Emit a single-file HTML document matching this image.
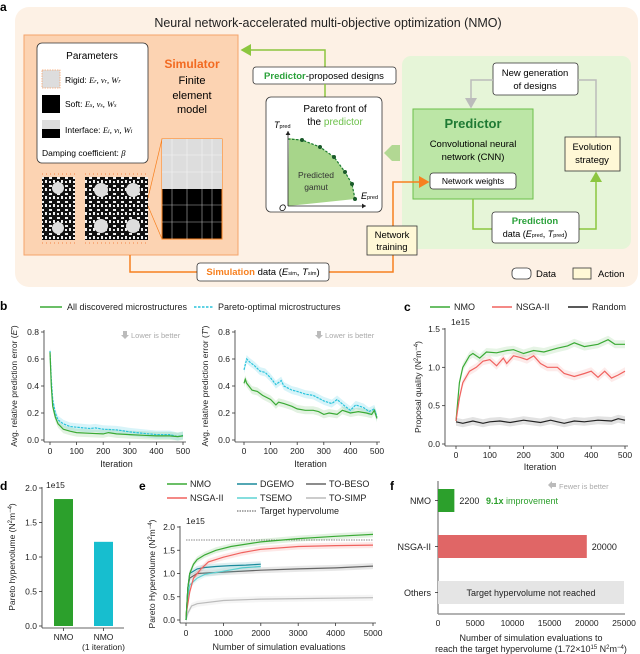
<!DOCTYPE html>
<html><head><meta charset="utf-8"><style>
html,body{margin:0;padding:0;background:#fff;}
svg{display:block;font-family:"Liberation Sans",Arial,sans-serif;}
</style></head><body>
<svg id="fig" width="640" height="654" viewBox="0 0 640 654" xmlns="http://www.w3.org/2000/svg">
<defs>
<marker id="ag" markerWidth="8" markerHeight="8" refX="6" refY="4" orient="auto"><path d="M0,0 L7,4 L0,8 z" fill="#8cc63f"/></marker>
<marker id="agr" markerWidth="8" markerHeight="8" refX="6" refY="4" orient="auto"><path d="M0,0 L7,4 L0,8 z" fill="#bbb"/></marker>
<marker id="ao" markerWidth="8" markerHeight="8" refX="6" refY="4" orient="auto"><path d="M0,0 L7,4 L0,8 z" fill="#f7801f"/></marker>
<marker id="ak" markerWidth="6" markerHeight="6" refX="5" refY="3" orient="auto"><path d="M0,0 L5,3 L0,6 z" fill="#222"/></marker>
<pattern id="maze" width="8" height="8" patternUnits="userSpaceOnUse"><rect width="8" height="8" fill="#111"/><rect x="1" y="1" width="3" height="2" fill="#eee"/><rect x="5" y="4" width="2" height="3" fill="#eee"/><rect x="1" y="5" width="2" height="2" fill="#eee"/></pattern>
</defs>

<!-- Panel a -->
<text x="0" y="11" font-size="12" font-weight="bold">a</text>
<rect x="15" y="7" width="623" height="280" rx="14" fill="#fdf1e5"/>
<text x="328" y="27" font-size="12.5" text-anchor="middle" fill="#222">Neural network-accelerated multi-objective optimization (NMO)</text>

<g>
<rect x="24" y="35" width="214" height="220" fill="#fcd3b2" stroke="#f5a46b" stroke-width="1"/>
<rect x="37" y="43" width="111" height="120" rx="5" fill="#fff" stroke="#333" stroke-width="0.8"/>
<text x="92" y="59" font-size="10" text-anchor="middle">Parameters</text>
<rect x="42" y="70" width="18" height="18" fill="#ddd" stroke="#f7a46b" stroke-dasharray="1.5,1" stroke-width="0.8"/>
<text x="65" y="83" font-size="8.5">Rigid: <tspan font-style="italic" font-family="Liberation Serif">E<tspan font-size="6">r</tspan>, ν<tspan font-size="6">r</tspan>, W<tspan font-size="6">r</tspan></tspan></text>
<rect x="42" y="95" width="18" height="18" fill="#000"/>
<text x="65" y="107" font-size="8.5">Soft: <tspan font-style="italic" font-family="Liberation Serif">E<tspan font-size="6">s</tspan>, ν<tspan font-size="6">s</tspan>, W<tspan font-size="6">s</tspan></tspan></text>
<rect x="42" y="120" width="18" height="9" fill="#ddd"/><rect x="42" y="129" width="18" height="9" fill="#000"/>
<text x="65" y="133" font-size="8.5">Interface: <tspan font-style="italic" font-family="Liberation Serif">E<tspan font-size="6">i</tspan>, ν<tspan font-size="6">i</tspan>, W<tspan font-size="6">i</tspan></tspan></text>
<text x="42" y="156" font-size="8.5">Damping coefficient: <tspan font-style="italic" font-family="Liberation Serif">β</tspan></text>
<text x="192" y="68" font-size="12" font-weight="bold" fill="#f26a21" text-anchor="middle">Simulator</text>
<text x="192" y="84" font-size="11" text-anchor="middle">Finite</text>
<text x="192" y="99" font-size="11" text-anchor="middle">element</text>
<text x="192" y="113" font-size="11" text-anchor="middle">model</text>
<rect x="42" y="177" width="33" height="63" fill="url(#maze)"/>
<rect x="85" y="177" width="63" height="63" fill="url(#maze)"/>
<circle cx="58" cy="188" r="6" fill="#ddd"/><circle cx="58" cy="228" r="6" fill="#ddd"/>
<circle cx="101" cy="190" r="7" fill="#ddd"/><circle cx="133" cy="190" r="7" fill="#ddd"/><circle cx="101" cy="226" r="7" fill="#ddd"/><circle cx="133" cy="226" r="7" fill="#ddd"/>
<path d="M42,174 h33 M85,174 h63 M42,243 h33 M85,243 h63" stroke="#f26a21" stroke-width="0.8" stroke-dasharray="1,3"/>
<rect x="162" y="139" width="60" height="100" fill="#000" stroke="#f7801f" stroke-width="1"/>
<rect x="162" y="139" width="60" height="50" fill="#ddd"/>
<path d="M172,139v100M187,139v100M202,139v100M212,139v100M162,155h60M162,172h60M162,205h60M162,222h60" stroke="#fff" stroke-width="0.6" opacity="0.7"/>
<path d="M148,198 L162,139 M148,206 L162,239" stroke="#f7801f" stroke-width="0.7"/>
</g>

<path d="M325,67 V50 H242" fill="none" stroke="#8cc63f" stroke-width="1.5" marker-end="url(#ag)"/>
<g>
<rect x="253" y="67" width="143" height="17" rx="3" fill="#fff" stroke="#333" stroke-width="0.8"/>
<text x="324" y="79" font-size="9.5" text-anchor="middle"><tspan fill="#2aa13a" font-weight="bold">Predictor</tspan>-proposed designs</text>
</g>
<line x1="325" y1="84" x2="325" y2="97" stroke="#8cc63f" stroke-width="1.5"/>

<g>
<rect x="266" y="97" width="116" height="115" rx="5" fill="#fff" stroke="#333" stroke-width="0.8"/>
<text x="335" y="112" font-size="10" text-anchor="middle">Pareto front of</text>
<text x="335" y="125" font-size="10" text-anchor="middle">the <tspan fill="#6cc04a">predictor</tspan></text>
<path d="M289,138 L302,140 L320,147 L334,157 L345,172 L352,184 L355,199 L288,206 Z" fill="#a7d58a"/>
<path d="M288,139 L302,140 L320,147 L334,157 L345,172 L352,184 L355,199" fill="none" stroke="#1a7a30" stroke-dasharray="2.5,1.5" stroke-width="1.2"/>
<g fill="#1a5a2a"><circle cx="302" cy="140" r="2"/><circle cx="320" cy="147" r="2"/><circle cx="334" cy="157" r="2"/><circle cx="345" cy="172" r="2"/><circle cx="352" cy="184" r="2"/><circle cx="355" cy="199" r="2"/></g>
<path d="M288,206 V131" stroke="#222" stroke-width="0.8" marker-end="url(#ak)"/>
<path d="M288,206 H366" stroke="#222" stroke-width="0.8" marker-end="url(#ak)"/>
<text x="274" y="128" font-size="9" font-style="italic">T<tspan font-size="5.5" font-style="normal">pred</tspan></text>
<text x="361" y="199" font-size="9" font-style="italic">E<tspan font-size="5.5" font-style="normal">pred</tspan></text>
<text x="279" y="211" font-size="9" font-style="italic">O</text>
<text x="316" y="178" font-size="8.5" text-anchor="middle" fill="#333">Predicted</text>
<text x="316" y="190" font-size="8.5" text-anchor="middle" fill="#333">gamut</text>
</g>

<rect x="402" y="56" width="229" height="193" rx="9" fill="#e6f5d8"/>
<path d="M400,145 H392 L384,153 L392,161 H400 Z" fill="#9fd27e" opacity="0.8"/>
<g>
<rect x="493" y="63" width="85" height="32" rx="3" fill="#fff" stroke="#333" stroke-width="0.8"/>
<text x="535" y="76" font-size="9.5" text-anchor="middle">New generation</text>
<text x="535" y="89" font-size="9.5" text-anchor="middle">of designs</text>
</g>
<path d="M493,80 H471 V107" fill="none" stroke="#bbb" stroke-width="1.5" marker-end="url(#agr)"/>
<path d="M596,137 V80 H578" fill="none" stroke="#bbb" stroke-width="1.5"/>
<g>
<rect x="413" y="109" width="120" height="90" fill="#bce6a6" stroke="#6cc04a" stroke-width="1"/>
<text x="473" y="128" font-size="13" font-weight="bold" fill="#1f7a34" text-anchor="middle">Predictor</text>
<text x="473" y="147" font-size="9.5" text-anchor="middle">Convolutional neural</text>
<text x="473" y="160" font-size="9.5" text-anchor="middle">network (CNN)</text>
<rect x="430" y="173" width="86" height="16" rx="3" fill="#fff" stroke="#333" stroke-width="0.8"/>
<text x="473" y="184" font-size="8.5" text-anchor="middle">Network weights</text>
</g>
<g>
<rect x="565" y="137" width="55" height="34" fill="#fff8d6" stroke="#333" stroke-width="0.8"/>
<text x="592" y="150" font-size="9.5" text-anchor="middle">Evolution</text>
<text x="592" y="163" font-size="9.5" text-anchor="middle">strategy</text>
</g>
<path d="M473,199 V229 H492" fill="none" stroke="#8cc63f" stroke-width="1.5"/>
<path d="M579,229 H596 V173" fill="none" stroke="#8cc63f" stroke-width="1.5" marker-end="url(#ag)"/>
<g>
<rect x="492" y="212" width="87" height="31" rx="3" fill="#fff" stroke="#333" stroke-width="0.8"/>
<text x="535" y="224" font-size="9.5" font-weight="bold" fill="#2aa13a" text-anchor="middle">Prediction</text>
<text x="535" y="237" font-size="9" text-anchor="middle">data (<tspan font-style="italic">E</tspan><tspan font-size="5.5">pred</tspan>, <tspan font-style="italic">T</tspan><tspan font-size="5.5">pred</tspan>)</text>
</g>
<path d="M130,255 V272 H197" fill="none" stroke="#f7801f" stroke-width="1.5"/>
<path d="M329,272 H393 V182 H428" fill="none" stroke="#f7801f" stroke-width="1.5" marker-end="url(#ao)"/>
<g>
<rect x="367" y="226" width="50" height="29" fill="#fff8d6" stroke="#333" stroke-width="0.8"/>
<text x="392" y="238" font-size="9.5" text-anchor="middle">Network</text>
<text x="392" y="250" font-size="9.5" text-anchor="middle">training</text>
</g>
<g>
<rect x="197" y="263" width="132" height="18" rx="3" fill="#fff" stroke="#333" stroke-width="0.8"/>
<text x="263" y="275" font-size="9.5" text-anchor="middle"><tspan fill="#f7801f" font-weight="bold">Simulation</tspan> data (<tspan font-style="italic">E</tspan><tspan font-size="5.5">sim</tspan>, <tspan font-style="italic">T</tspan><tspan font-size="5.5">sim</tspan>)</text>
</g>
<g>
<rect x="512" y="268" width="19" height="11" rx="4" fill="#fff" stroke="#333" stroke-width="0.8"/>
<text x="536" y="277" font-size="9.5">Data</text>
<rect x="573" y="268" width="18" height="11" fill="#fff8d6" stroke="#333" stroke-width="0.8"/>
<text x="598" y="277" font-size="9.5">Action</text>
</g>

<!-- panel labels -->
<text x="0" y="310" font-size="12" font-weight="bold">b</text>
<text x="404" y="311" font-size="12" font-weight="bold">c</text>
<text x="0" y="490" font-size="12" font-weight="bold">d</text>
<text x="139" y="490" font-size="12" font-weight="bold">e</text>
<text x="390" y="490" font-size="12" font-weight="bold">f</text>
<g id="charts"></g>
</svg>
<script>
// ---------- DATA ----------
// panel b (left, E')
const bIterE_green = [0,5,10,20,30,50,75,100,150,200,220,250,300,350,400,450,480,500];
const bValE_green  = [0.65,0.40,0.25,0.17,0.12,0.08,0.065,0.055,0.05,0.045,0.055,0.045,0.04,0.035,0.03,0.03,0.025,0.03];
const bIterE_cyan  = [0,5,10,20,30,50,75,100,150,170,200,250,270,300,350,400,450,480,500];
const bValE_cyan   = [0.66,0.45,0.30,0.20,0.15,0.12,0.10,0.095,0.085,0.09,0.08,0.075,0.07,0.06,0.05,0.04,0.04,0.025,0.035];
// panel b (right, T')
const bIterT_green = [0,5,10,30,50,70,100,120,130,150,180,200,230,260,280,300,320,350,370,400,430,460,480,490,500];
const bValT_green  = [0.42,0.45,0.42,0.37,0.36,0.33,0.30,0.26,0.28,0.27,0.25,0.23,0.22,0.22,0.21,0.19,0.20,0.19,0.22,0.20,0.21,0.20,0.19,0.22,0.16];
const bIterT_cyan  = [0,10,20,40,60,80,100,120,140,150,180,200,230,260,280,300,330,350,380,400,420,450,470,490,500];
const bValT_cyan   = [0.52,0.60,0.58,0.55,0.51,0.50,0.46,0.41,0.44,0.40,0.37,0.36,0.34,0.33,0.31,0.29,0.27,0.30,0.25,0.22,0.26,0.24,0.21,0.23,0.17];
const bTicksY = ["0.0","0.2","0.4","0.6","0.8"];
const bTicksX = [0,100,200,300,400,500];
// panel c
const cIter = [0,10,20,40,50,70,90,120,150,170,200,230,260,300,330,350,380,420,450,470,500];
const cNMO  = [0.3,0.8,1.0,1.15,1.18,1.12,1.2,1.19,1.22,1.23,1.18,1.22,1.2,1.25,1.28,1.32,1.27,1.3,1.36,1.3,1.3];
const cIterN = [0,10,20,40,60,80,100,120,140,150,170,190,210,230,250,270,300,320,350,380,400,420,440,460,480,500];
const cNSGA = [0.3,0.6,0.8,0.95,1.0,1.08,1.1,1.02,1.12,1.05,1.15,1.13,1.1,1.15,1.05,1.0,1.0,0.92,0.88,0.92,0.95,0.87,0.95,0.86,0.9,0.95];
const cIterR = [0,20,50,80,100,130,160,200,250,280,300,320,350,380,420,460,480,500];
const cRandom = [0.29,0.27,0.3,0.27,0.29,0.3,0.28,0.31,0.28,0.31,0.29,0.27,0.3,0.29,0.31,0.3,0.33,0.31];
const cTicksY = ["0.0","0.5","1.0","1.5"];
// panel d
const dCats = ["NMO","NMO"];
const dSub = ["","(1 iteration)"];
const dVals = [1.84,1.22];
const dTicksY = ["0.0","0.5","1.0","1.5","2.0"];
// panel e
const eX_NMO = [0,50,100,200,300,500,800,1200,2000,3000,4000,5000];
const eY_NMO = [0,0.7,1.0,1.2,1.3,1.4,1.5,1.58,1.68,1.75,1.8,1.84];
const eX_NSGA = [0,100,200,400,600,1000,1500,2000,3000,4000,5000];
const eY_NSGA = [0.1,0.6,0.9,1.1,1.25,1.35,1.45,1.52,1.58,1.6,1.61];
const eX_DGEMO = [0,50,100,300,500,800,1200,1600,2000];
const eY_DGEMO = [0,0.7,1.0,1.1,1.13,1.15,1.17,1.18,1.2];
const eX_TSEMO = [0,50,100,300,500,1000,1500,2000];
const eY_TSEMO = [0,0.5,0.75,0.9,0.98,1.05,1.12,1.15];
const eX_BESO = [0,50,100,300,1000,2000,3000,4000,5000];
const eY_BESO = [0,0.7,0.9,1.0,1.03,1.07,1.1,1.12,1.16];
const eX_SIMP = [0,50,150,300,1000,2000,3000,5000];
const eY_SIMP = [0,0.15,0.3,0.35,0.42,0.45,0.46,0.48];
const eTarget = [1.72];
const eTicksX = [0,1000,2000,3000,4000,5000];
const eTicksY = ["0.0","0.5","1.0","1.5","2.0"];
// panel f
const fCats = ["NMO","NSGA-II","Others"];
const fVals = [2200,20000,25000];
const fLabels = ["2200","20000","Target hypervolume not reached"];
const fTicksX = [0,5000,10000,15000,20000,25000];

// ---------- helpers ----------
const NS="http://www.w3.org/2000/svg";
const root=document.getElementById('charts');
function el(tag,attrs,parent){const e=document.createElementNS(NS,tag);for(const k in attrs)e.setAttribute(k,attrs[k]);(parent||root).appendChild(e);return e;}
function txt(x,y,s,size,anchor,fill,parent){const t=el('text',{x:x,y:y,'font-size':size,'text-anchor':anchor||'start',fill:fill||'#222'},parent);t.textContent=s;return t;}
function lin(d0,d1,r0,r1){return v=>r0+(v-d0)/(d1-d0)*(r1-r0);}
function pathD(xs,ys,sx,sy){return xs.map((x,i)=>(i?'L':'M')+sx(x).toFixed(1)+','+sy(ys[i]).toFixed(1)).join('');}
function bandD(xs,ys,sx,sy,w){let up=xs.map((x,i)=>sx(x).toFixed(1)+','+(sy(ys[i])-w).toFixed(1));let dn=xs.map((x,i)=>sx(x).toFixed(1)+','+(sy(ys[i])+w).toFixed(1)).reverse();return 'M'+up.join('L')+'L'+dn.join('L')+'Z';}
function axisL(x,y0,y1,g){el('line',{x1:x,y1:y0,x2:x,y2:y1,stroke:'#333','stroke-width':0.8},g);}
function rotTitle(x,y,s,size,g){const t=el('text',{x:0,y:0,'font-size':size,'text-anchor':'middle',transform:`translate(${x},${y}) rotate(-90)`,fill:'#222'},g);t.innerHTML=s;return t;}

// ---------- panel b legend ----------
let lg=el('g',{});


el('line',{x1:40,y1:307,x2:62,y2:307,stroke:'#3aaa35','stroke-width':1.5},lg);
txt(67,310,'All discovered microstructures',9,'start','#222',lg);
el('line',{x1:194,y1:307,x2:214,y2:307,stroke:'#29c4dc','stroke-width':1.5,'stroke-dasharray':'2.5,1.5'},lg);
txt(218,310,'Pareto-optimal microstructures',9,'start','#222',lg);

function panelB(name,x0px,x1px,axisX,gX,gY,cX,cY,ttl){
  const g=el('g',{});
  
  
  const sx=lin(0,500,x0px,x1px), sy=lin(0,0.8,440,332);
  axisL(axisX,330,442,g);
  el('line',{x1:axisX,y1:442,x2:x1px+3,y2:442,stroke:'#333','stroke-width':0.8},g);
  bTicksY.forEach(s=>{const v=parseFloat(s);el('line',{x1:axisX-3,y1:sy(v),x2:axisX,y2:sy(v),stroke:'#333','stroke-width':0.8},g);txt(axisX-5,sy(v)+3,s,8.5,'end','#222',g);});
  bTicksX.forEach(v=>{el('line',{x1:sx(v),y1:442,x2:sx(v),y2:445,stroke:'#333','stroke-width':0.8},g);txt(sx(v),454,String(v),8.5,'middle','#222',g);});
  txt((x0px+x1px)/2,467,'Iteration',9,'middle','#222',g);
  rotTitle(axisX-27,386,ttl,8.5,g);
  el('path',{d:bandD(cX,cY,sx,sy,4),fill:'#29c4dc',opacity:0.18},g);
  el('path',{d:bandD(gX,gY,sx,sy,4),fill:'#3aaa35',opacity:0.15},g);
  const pc=el('path',{d:pathD(cX,cY,sx,sy),fill:'none',stroke:'#29c4dc','stroke-width':1.2,'stroke-dasharray':'2.5,1'},g);
  
  
  const pg=el('path',{d:pathD(gX,gY,sx,sy),fill:'none',stroke:'#3aaa35','stroke-width':1.2},g);
  
  
  el('path',{d:`M${x1px-60},331 h4 v4 h2 l-4,4 l-4,-4 h2 z`,fill:'#bbb'},g);
  txt(x1px-52,338,'Lower is better',7.5,'start','#aaa',g);
}
panelB('chart-b-e-error',50,183,44,bIterE_green,bValE_green,bIterE_cyan,bValE_cyan,"Avg. relative prediction error (<tspan font-style='italic'>E</tspan>')");
panelB('chart-b-t-error',244,377,235,bIterT_green,bValT_green,bIterT_cyan,bValT_cyan,"Avg. relative prediction error (<tspan font-style='italic'>T</tspan>')");

// ---------- panel c ----------
(function(){
  const g=el('g',{});
  
  
  const sx=lin(0,500,456,625), sy=lin(0,1.5,444,329);
  const lgd=[['NMO','#3aaa35',430],['NSGA-II','#f0625f',492],['Random','#222',568]];
  lgd.forEach(l=>{el('line',{x1:l[2],y1:307,x2:l[2]+20,y2:307,stroke:l[1],'stroke-width':1.5},g);txt(l[2]+24,310,l[0],9,'start','#222',g);});
  txt(451,325,'1e15',8.5,'start','#222',g);
  axisL(445,328,446,g);
  el('line',{x1:445,y1:446,x2:628,y2:446,stroke:'#333','stroke-width':0.8},g);
  cTicksY.forEach(s=>{const v=parseFloat(s);el('line',{x1:442,y1:sy(v),x2:445,y2:sy(v),stroke:'#333','stroke-width':0.8},g);txt(440,sy(v)+3,s,8.5,'end','#222',g);});
  bTicksX.forEach(v=>{el('line',{x1:sx(v),y1:446,x2:sx(v),y2:449,stroke:'#333','stroke-width':0.8},g);txt(sx(v),458,String(v),8.5,'middle','#222',g);});
  txt(540,470,'Iteration',9,'middle','#222',g);
  rotTitle(421,387,'Proposal quality (N<tspan font-size="6" dy="-3">2</tspan><tspan dy="3">m</tspan><tspan font-size="6" dy="-3">−4</tspan><tspan dy="3">)</tspan>',8.5,g);
  [[cIter,cNMO,'#3aaa35','nmo-line'],[cIterN,cNSGA,'#f0625f','nsga-line'],[cIterR,cRandom,'#222','random-line']].forEach(s=>{
    el('path',{d:bandD(s[0],s[1],sx,sy,4),fill:s[2],opacity:0.13},g);
    const p=el('path',{d:pathD(s[0],s[1],sx,sy),fill:'none',stroke:s[2],'stroke-width':1.2},g);
    
    
  });
})();

// ---------- panel d ----------
(function(){
  const g=el('g',{});
  
  
  const sy=lin(0,2,626,488);
  const cols=['#2ca02c','#17becf'];const xs=[54,94];
  txt(46,488,'1e15',8.5,'start','#222',g);
  axisL(42,487,628,g);
  el('line',{x1:42,y1:628,x2:124,y2:628,stroke:'#333','stroke-width':0.8},g);
  dTicksY.forEach(s=>{const v=parseFloat(s);el('line',{x1:39,y1:sy(v),x2:42,y2:sy(v),stroke:'#333','stroke-width':0.8},g);txt(37,sy(v)+3,s,8.5,'end','#222',g);});
  dVals.forEach((v,i)=>{
    const r=el('rect',{x:xs[i],y:sy(v),width:19,height:sy(0)-sy(v),fill:cols[i]},g);
    
    
    el('line',{x1:xs[i]+9.5,y1:628,x2:xs[i]+9.5,y2:631,stroke:'#333','stroke-width':0.8},g);
    txt(xs[i]+9.5,640,dCats[i],8.5,'middle','#222',g);
    if(dSub[i])txt(xs[i]+9.5,650,dSub[i],8.5,'middle','#222',g);
  });
  rotTitle(15,557,'Pareto hypervolume (N<tspan font-size="6" dy="-3">2</tspan><tspan dy="3">m</tspan><tspan font-size="6" dy="-3">−4</tspan><tspan dy="3">)</tspan>',8.5,g);
})();

// ---------- panel e ----------
(function(){
  const g=el('g',{});
  
  
  const sx=lin(0,5000,186,373), sy=lin(0,2,620,527);
  const lgd=[['NMO','#3aaa35',167,484,''],['NSGA-II','#f0625f',167,498,''],['DGEMO','#1a8a9c',237,484,''],['TSEMO','#5fd3d3',237,498,''],['TO-BESO','#666',306,484,''],['TO-SIMP','#bbb',306,498,''],['Target hypervolume','#555',237,511,'1.5,1']];
  lgd.forEach(l=>{el('line',{x1:l[2],y1:l[3],x2:l[2]+20,y2:l[3],stroke:l[1],'stroke-width':l[4]?1:1.5,'stroke-dasharray':l[4]||'none'},g);txt(l[2]+23,l[3]+3,l[0],9,'start','#222',g);});
  txt(186,524,'1e15',8.5,'start','#222',g);
  axisL(180,526,623,g);
  el('line',{x1:180,y1:623,x2:376,y2:623,stroke:'#333','stroke-width':0.8},g);
  eTicksY.forEach(s=>{const v=parseFloat(s);el('line',{x1:177,y1:sy(v),x2:180,y2:sy(v),stroke:'#333','stroke-width':0.8},g);txt(175,sy(v)+3,s,8.5,'end','#222',g);});
  eTicksX.forEach(v=>{el('line',{x1:sx(v),y1:623,x2:sx(v),y2:626,stroke:'#333','stroke-width':0.8},g);txt(sx(v),636,String(v),8.5,'middle','#222',g);});
  txt(279,650,'Number of simulation evaluations',9,'middle','#222',g);
  rotTitle(155,574,'Pareto Hypervolume (N<tspan font-size="6" dy="-3">2</tspan><tspan dy="3">m</tspan><tspan font-size="6" dy="-3">−4</tspan><tspan dy="3">)</tspan>',8.5,g);
  const tl=el('line',{x1:sx(0),y1:sy(eTarget[0]),x2:sx(5000),y2:sy(eTarget[0]),stroke:'#888','stroke-width':1,'stroke-dasharray':'1.5,1'},g);
  
  
  [[eX_SIMP,eY_SIMP,'#bbb','to-simp-line'],[eX_BESO,eY_BESO,'#666','to-beso-line'],[eX_TSEMO,eY_TSEMO,'#5fd3d3','tsemo-line'],[eX_DGEMO,eY_DGEMO,'#1a8a9c','dgemo-line'],[eX_NSGA,eY_NSGA,'#f0625f','nsga-e-line'],[eX_NMO,eY_NMO,'#3aaa35','nmo-e-line']].forEach(s=>{
    el('path',{d:bandD(s[0],s[1],sx,sy,3),fill:s[2],opacity:0.15},g);
    const p=el('path',{d:pathD(s[0],s[1],sx,sy),fill:'none',stroke:s[2],'stroke-width':1.2},g);
    
    
  });
})();

// ---------- panel f ----------
(function(){
  const g=el('g',{});
  
  
  const sx=lin(0,25000,438,624);
  const ys=[489,535,581];const cols=['#2ca02c','#e06666','#e5e5e5'];
  el('path',{d:'M556,483 h-4 v-2 l-4,4 l4,4 v-2 h4 z',fill:'#bbb'},g);
  txt(559,489,'Fewer is better',7.5,'start','#aaa',g);
  axisL(438,481,614,g);
  el('line',{x1:438,y1:614,x2:625,y2:614,stroke:'#999','stroke-width':1.5},g);
  fTicksX.forEach(v=>{txt(sx(v),626,String(v),8.5,'middle','#222',g);});
  fVals.forEach((v,i)=>{
    const r=el('rect',{x:438,y:ys[i],width:sx(v)-438,height:23,fill:cols[i]},g);
    
    
    el('line',{x1:435,y1:ys[i]+11.5,x2:438,y2:ys[i]+11.5,stroke:'#333','stroke-width':0.8},g);
    txt(431,ys[i]+15,fCats[i],9,'end','#222',g);
    if(i<2) txt(sx(v)+5,ys[i]+15,fLabels[i],9,'start','#222',g);
    else txt(531,ys[i]+15,fLabels[i],9,'middle','#222',g);
  });
  const imp=el('text',{x:486,y:ys[0]+15,'font-size':9,fill:'#2ca02c'},g);
  imp.innerHTML='<tspan font-weight="bold">9.1x</tspan> improvement';
  txt(531,641,'Number of simulation evaluations to',9,'middle','#222',g);
  const t2=el('text',{x:531,y:652,'font-size':9,'text-anchor':'middle',fill:'#222'},g);
  t2.innerHTML='reach the target hypervolume (1.72×10<tspan font-size="6" dy="-3">15</tspan><tspan dy="3"> N</tspan><tspan font-size="6" dy="-3">2</tspan><tspan dy="3">m</tspan><tspan font-size="6" dy="-3">−4</tspan><tspan dy="3">)</tspan>';
})();
</script>
</body></html>
